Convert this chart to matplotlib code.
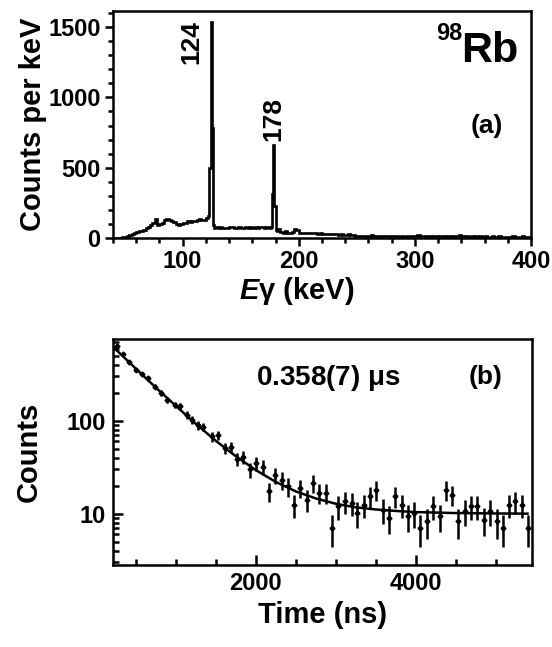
import matplotlib
matplotlib.use("Agg")
import matplotlib.pyplot as plt
from matplotlib.ticker import MultipleLocator, LogLocator, NullFormatter, FixedLocator
import numpy as np

plt.rcParams['font.family'] = ['Liberation Sans', 'DejaVu Sans']
plt.rcParams['font.weight'] = 'bold'
plt.rcParams['mathtext.fontset'] = 'custom'
plt.rcParams['mathtext.it'] = 'Liberation Sans:bold:italic'
plt.rcParams['mathtext.rm'] = 'Liberation Sans'
plt.rcParams['mathtext.bf'] = 'Liberation Sans:bold'

# ---------------- (a) gamma spectrum (bin edges in keV, counts per keV) ----------------
spec_edges = ([40, 42, 44, 46, 48, 50, 52, 54, 56, 58, 60, 62, 64, 66, 68, 70, 72, 74, 76, 78,
               80, 82, 84, 86, 88, 90, 92, 94, 96, 98, 100, 102, 104, 106, 108, 110, 112, 114,
               116, 118, 120, 122, 123, 124, 125, 126, 127,
               128, 130, 132, 134, 136, 138, 140, 142, 144, 146, 148, 150, 152, 154, 156, 158,
               160, 162, 164, 166, 168, 170, 172, 174, 176, 177, 178, 179, 180, 181]
              + list(range(182, 402, 2)))
spec_counts = [0, 0, 0, 2, 5, 10, 15, 22, 28, 35, 40, 48, 52, 60, 68, 80, 92, 110, 135, 95,
               100, 110, 125, 132, 128, 120, 112, 100, 95, 102, 108, 104, 118, 112, 122, 118, 125, 135,
               130, 128, 140, 160, 500, 1540, 780, 90, 70,
               75, 72, 78, 70, 74, 72, 80, 76, 70, 72, 80, 74, 72, 78, 74, 76,
               72, 78, 74, 76, 78, 72, 76, 74, 80, 310, 660, 230, 60, 50,
               62, 40, 38, 50, 36, 35, 40, 65, 60, 38, 36, 38, 35, 36, 34, 33, 35, 32, 33, 30,
               31, 28, 30, 27, 26, 27, 24, 25, 22, 24, 26, 20, 18, 15, 14, 15, 13, 16, 14, 15,
               18, 14, 13, 15, 12, 14, 13, 16, 12, 13, 11, 14, 12, 13, 10, 12, 14, 11, 12, 13,
               20, 16, 12, 11, 13, 12, 10, 11, 13, 10, 12, 11, 9, 12, 10, 13, 11, 15, 18, 12,
               10, 11, 9, 12, 10, 11, 9, 12, 10, 11, 9, 10, 12, 9, 10, 11, 9, 10, 8, 10,
               9, 11, 8, 10, 9, 11, 8, 10, 9]
peak_energies = [124, 178]
peak_labels = ["124", "178"]

# ---------------- (b) time spectrum ----------------
time_ns = [262, 340, 416, 500, 580, 658, 741, 815, 888, 991, 1054, 1137, 1208, 1283, 1346,
           1450, 1533, 1617, 1688, 1771, 1846, 1929, 2004, 2087, 2167, 2242, 2325, 2400,
           2479, 2554, 2638, 2713, 2796, 2875, 2958, 3033, 3117, 3200, 3271, 3354, 3429,
           3504, 3588, 3663, 3746, 3825, 3900, 3979, 4054, 4138, 4221, 4304, 4379, 4450,
           4533, 4617, 4692, 4771, 4854, 4929, 5013, 5096, 5171, 5242, 5325, 5408]
counts = [645, 520, 434, 353, 320, 288, 234, 200, 168, 149, 143, 116, 102, 90, 86,
          68, 70, 51, 52, 39, 41, 30, 35, 32, 17.4, 26, 23, 19.7,
          12.5, 18.9, 14.1, 21.4, 16.7, 16.7, 7.0, 12, 13.6, 13, 10.2, 12.5, 15.4,
          18.1, 11, 9, 15.4, 12.5, 9.4, 10.2, 7.0, 8.3, 12, 9.4, 18.1, 16,
          8.3, 10.6, 12, 12, 8.6, 10.6, 8.3, 7.0, 12.5, 13.6, 12.5, 7.0]
count_err = [25, 23, 21, 19, 18, 17, 15, 14, 13, 12, 12, 11, 10, 9.5, 9.3,
             8.2, 8.4, 7.1, 7.2, 6.2, 6.4, 5.5, 5.9, 5.7, 4.2, 5.1, 4.8, 4.4,
             3.5, 4.3, 3.8, 4.6, 4.1, 4.1, 2.6, 3.5, 3.7, 3.6, 3.2, 3.5, 3.9,
             4.3, 3.3, 3.0, 3.9, 3.5, 3.1, 3.2, 2.6, 2.9, 3.5, 3.1, 4.3, 4.0,
             2.9, 3.3, 3.5, 3.5, 2.9, 3.3, 2.9, 2.6, 3.5, 3.7, 3.5, 2.6]
# fitted curve
fit_t = [220, 500, 750, 1000, 1250, 1500, 1750, 2000, 2250, 2500, 2750, 3000, 3250,
         3500, 3750, 4000, 4500, 5000, 5400]
fit_y = [620, 365, 228, 145, 93, 61, 41.6, 29.5, 22, 17.4, 14.6, 12.8, 11.7,
         11.1, 10.7, 10.4, 10.15, 10.05, 10.0]

fig = plt.figure(figsize=(5.52, 6.47), dpi=100)
W, H = 552, 647

def px_axes(l, t, r, b):
    return fig.add_axes([l / W, 1 - b / H, (r - l) / W, (b - t) / H])

# ---- panel a ----
ax1 = px_axes(113, 11, 531, 238)
ax1.stairs(spec_counts, spec_edges, color='black', lw=1.9, baseline=None)
ax1.set_xlim(40, 400)
ax1.set_ylim(0, 1615)
ax1.xaxis.set_major_locator(FixedLocator([100, 200, 300, 400]))
ax1.xaxis.set_minor_locator(MultipleLocator(20))
ax1.yaxis.set_major_locator(MultipleLocator(500))
ax1.yaxis.set_minor_locator(MultipleLocator(100))
ax1.tick_params(which='both', direction='out', width=1.8, labelsize=17)
ax1.tick_params(which='major', length=6, pad=3)
ax1.tick_params(which='minor', length=3.5)
for s in ax1.spines.values():
    s.set_linewidth(1.8)
ax1.set_ylabel('Counts per keV', fontsize=21, fontweight='bold', va='center')
ax1.yaxis.set_label_coords((33 - 113) / 418, 0.5)
ax1.set_xlabel('$E$γ (keV)', fontsize=21, fontweight='bold', va='center')
ax1.xaxis.set_label_coords((297 - 113) / 418, (238 - 291) / 227)
ax1.text(107.4, 1393, peak_labels[0], rotation=90, ha='center', va='center', fontsize=19)
ax1.text(peak_energies[1], 850, peak_labels[1], rotation=90, ha='center', va='center',
         fontsize=19)
ax1.text((462 - 113) / 418, 1 - (33 - 11) / 227, '98', transform=ax1.transAxes,
         ha='right', va='center', fontsize=17)
ax1.text((461 - 113) / 418, 1 - (62 - 11) / 227, 'Rb', transform=ax1.transAxes,
         ha='left', va='baseline', fontsize=31)
ax1.text((487 - 113) / 418, 1 - (126 - 11) / 227, '(a)', transform=ax1.transAxes,
         ha='center', va='center', fontsize=19)

# ---- panel b ----
ax2 = px_axes(113, 339, 531.5, 565)
ax2.set_yscale('log')
ax2.errorbar(time_ns, counts, yerr=count_err, xerr=20, fmt='D', ms=2.5, color='black',
             ecolor='black', elinewidth=1.8, capsize=0)
ax2.plot(fit_t, fit_y, color='black', lw=1.8)
ax2.set_xlim(215, 5450)
ax2.set_ylim(2.8, 760)
ax2.xaxis.set_major_locator(FixedLocator([2000, 4000]))
ax2.xaxis.set_minor_locator(MultipleLocator(500))
ax2.yaxis.set_major_locator(FixedLocator([10, 100]))
ax2.yaxis.set_minor_locator(LogLocator(base=10, subs=np.arange(2, 10)))
ax2.yaxis.set_minor_formatter(NullFormatter())
ax2.set_yticklabels(['10', '100'])
ax2.tick_params(which='both', direction='in', width=1.8, labelsize=17)
ax2.tick_params(which='major', length=7, pad=5)
ax2.tick_params(which='minor', length=4)
for s in ax2.spines.values():
    s.set_linewidth(1.8)
ax2.set_ylabel('Counts', fontsize=21, fontweight='bold', va='center')
ax2.yaxis.set_label_coords((29 - 113) / 418, 0.5)
ax2.set_xlabel('Time (ns)', fontsize=21, fontweight='bold', va='center')
ax2.xaxis.set_label_coords(0.5, (565 - 615) / 226)
ax2.text((328 - 113) / 418, 1 - (378 - 339) / 226, r'0.358(7) $\mathrm{\mu}$s',
         transform=ax2.transAxes, ha='center', va='center', fontsize=20)
ax2.text((485 - 113) / 418, 1 - (377 - 339) / 226, '(b)', transform=ax2.transAxes,
         ha='center', va='center', fontsize=19)

fig.savefig('out.png', dpi=100)
